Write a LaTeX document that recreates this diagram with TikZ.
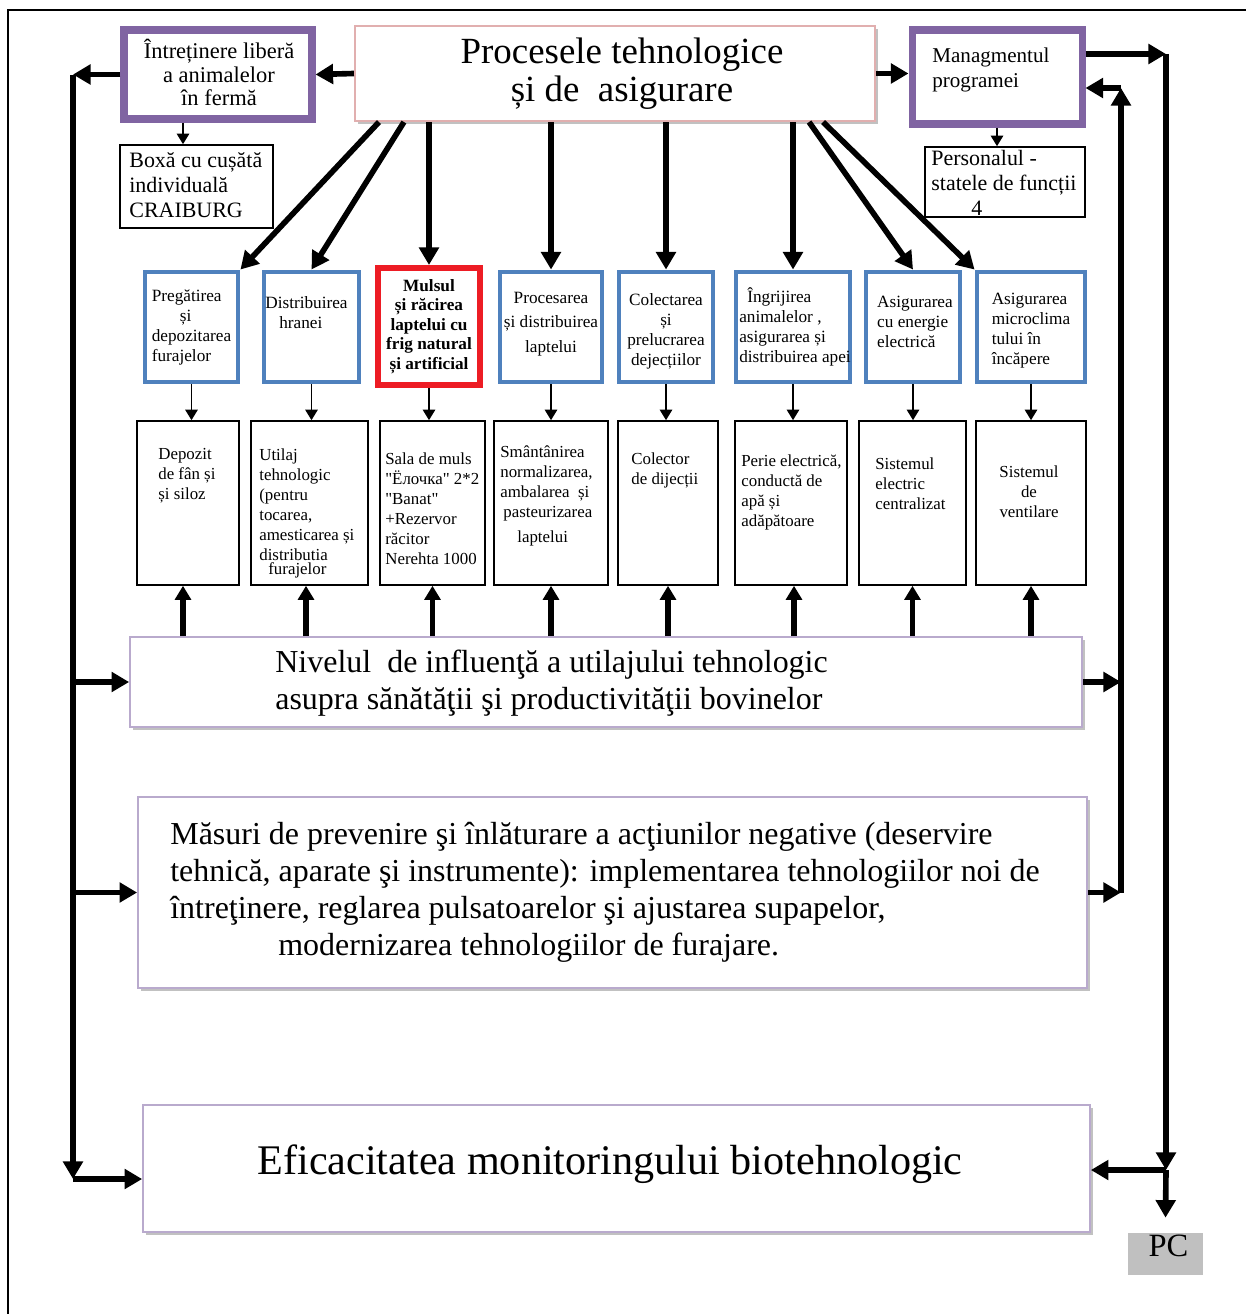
\documentclass[tikz,border=0pt]{standalone}
\usepackage{fontspec}
\setmainfont{Liberation Serif}[Ligatures=TeXOff]
\usetikzlibrary{arrows.meta,fit,shadows}
\definecolor{stageblue}{RGB}{79,129,189}
\definecolor{milkred}{RGB}{237,28,36}
\definecolor{mgmtpurple}{RGB}{128,100,162}
\definecolor{lavender}{RGB}{185,170,205}
\definecolor{rosy}{RGB}{225,175,175}
\definecolor{pcgrey}{RGB}{192,192,192}

\begin{document}
\begin{tikzpicture}[x=0.02cm, y=-0.02cm,
            stage/.style = {draw=stageblue, line width=2.8pt, inner sep=0pt},
            milk/.style = {draw=milkred, line width=3.4pt, inner sep=0pt},
            tool/.style = {draw, line width=0.9pt, inner sep=0pt},
            mgmt/.style = {draw=mgmtpurple, line width=4pt, inner sep=0pt},
            wide/.style = {draw=lavender, line width=1pt, fill=white, inner sep=0pt,
                        drop shadow={shadow xshift=1.5pt, shadow yshift=-1.5pt,
                        fill=black!35, opacity=0.7}},
            stxt/.style = {inner sep=0pt, align=left,
                        font=\fontsize{9.8}{11.4}\selectfont},
            txt/.style = {anchor=north west, inner sep=0pt, align=left,
                        font=\fontsize{9.6}{11.4}\selectfont},
            notetxt/.style = {anchor=west, inner sep=0pt, align=left,
                        font=\fontsize{12.5}{14.2}\selectfont},
            bigtxt/.style = {anchor=west, inner sep=0pt, align=left,
                        font=\fontsize{18.2}{20.8}\selectfont},
            bigarr/.style = {line width=3.2pt, -{Triangle[length=10pt, width=11pt]}},
            midarr/.style = {line width=3.2pt, -{Triangle[length=8pt, width=9pt]}},
            thinarr/.style = {line width=1.1pt, -{Triangle[length=6pt, width=7pt]}}]
            \useasboundingbox (0,0) rectangle (1246,1314);
            % page frame
            \draw[line width=1.2pt] (1246,10) -- (8,10) -- (8,1314);

            % top boxes
            \node[wide, draw=rosy, line width=1.2pt, fit={(355,26) (875,121)}] (proc) {};
            \node[inner sep=0pt, align=center, font=\fontsize{21}{21.6}\selectfont]
                (proct) at ([shift={(7,0)}]proc.center)
                {Procesele tehnologice\\ și de\ \ asigurare};
            \node[mgmt, fit={(124,30) (312,119)}] (lp) {};
            \draw[mgmtpurple, line width=0.9pt] ([shift={(5,5)}]lp.north west)
                rectangle ([shift={(-5,-5)}]lp.south east);
            \node[inner sep=0pt, align=center, font=\fontsize{12.8}{13.6}\selectfont]
                (lpt) at ([shift={(1,-2)}]lp.center)
                {Întreținere liberă\\ a animalelor\\ în fermă};
            \node[mgmt, fit={(912,30) (1082,124)}] (mg) {};
            \draw[mgmtpurple, line width=0.9pt] ([shift={(5,5)}]mg.north west)
                rectangle ([shift={(-5,-5)}]mg.south east);
            \node[notetxt, font=\fontsize{12}{14.2}\selectfont] (mgt) at (932,70)
                {Managmentul\\ programei};
            \node[tool, fit={(120,145) (273,228)}] (bx) {};
            \node[notetxt] (bxt) at (129,185) {Boxă cu cușătă\\ individuală\\ CRAIBURG};
            \node[tool, fit={(925,147) (1085,217)}] (ps) {};
            \node[notetxt] (pst) at (931,183)
                {Personalul -\\ statele de funcții\\ \hspace*{8mm}4};

            % stages
            \node[stage, fit={(145,272) (238,382)}] (p1) {};
            \node[stxt] (p1t) at (p1.center)
                {Pregătirea\\ \hspace*{5.6mm}și\\ depozitarea\\ furajelor};
            \node[stage, fit={(264,272) (359,382)}] (p2) {};
            \node[stxt] (p2t) at ([shift={(-5,-14)}]p2.center)
                {Distribuirea\\ \hspace*{2.8mm}hranei};
            \node[milk, fit={(378,268) (480,385)}] (p3) {};
            \node[stxt, align=center, font=\fontsize{9.8}{11.1}\selectfont\bfseries]
                (p3t) at (p3.center)
                {Mulsul\\ și răcirea\\ laptelui cu\\ frig natural\\ și artificial};
            \node[stage, fit={(500,272) (602,382)}] (p4) {};
            \node[stxt, align=center, font=\fontsize{9.8}{13.8}\selectfont]
                (p4t) at ([shift={(0,-3)}]p4.center)
                {Procesarea\\ și distribuirea\\ laptelui};
            \node[stage, fit={(619,272) (713,382)}] (p5) {};
            \node[stxt, align=center] (p5t) at ([shift={(0,4)}]p5.center)
                {Colectarea\\ și\\ prelucrarea\\ dejecțiilor};
            \node[stage, fit={(736,272) (850,382)}] (p6) {};
            \node[stxt] (p6t) at ([shift={(2,0)}]p6.center)
                {\hspace*{1.6mm}Îngrijirea\\ animalelor ,\\ asigurarea și\\ distribuirea apei};
            \node[stage, fit={(866,272) (960,382)}] (p7) {};
            \node[stxt] (p7t) at ([shift={(2,-5)}]p7.center)
                {Asigurarea\\ cu energie\\ electrică};
            \node[stage, fit={(977,272) (1085,382)}] (p8) {};
            \node[stxt] (p8t) at ([shift={(0,4)}]p8.center)
                {Asigurarea\\ microclima\\ tului în\\ încăpere};

            % equipment
            \node[tool, fit={(137,421) (239,585)}] (d1) {};
            \node[tool, fit={(251,421) (368,585)}] (d2) {};
            \node[tool, fit={(380,421) (485,585)}] (d3) {};
            \node[tool, fit={(494,421) (608,585)}] (d4) {};
            \node[tool, fit={(618,421) (718,585)}] (d5) {};
            \node[tool, fit={(735,421) (847,585)}] (d6) {};
            \node[tool, fit={(859,421) (966,585)}] (d7) {};
            \node[tool, fit={(976,421) (1086,585)}] (d8) {};
            \node[txt] (t1) at (158,448) {Depozit\\ de fân și\\ și siloz};
            \node[txt] (t2) at (259,448) {Utilaj\\ tehnologic\\ (pentru\\ tocarea,\\
                amesticarea și\\ distributia\\[-3pt] \hspace*{1.8mm}furajelor};
            \node[txt] (t3) at (385,452) {Sala de muls\\ "Ёлочка" 2*2\\ "Banat"\\
                +Rezervor\\ răcitor\\ Nerehta 1000};
            \node[txt] (t4) at (500,445) {Smântânirea\\ normalizarea,\\ ambalarea\ \ și\\
                \hspace*{0.6mm}pasteurizarea\\[3pt] \hspace*{3.4mm}laptelui};
            \node[txt] (t5) at (631,452) {Colector\\ de dijecții};
            \node[txt] (t6) at (741,454) {Perie electrică,\\ conductă de\\ apă și\\ adăpătoare};
            \node[txt] (t7) at (875,457) {Sistemul\\ electric\\ centralizat};
            \node[txt, anchor=north, align=center] (t8) at (1029,465) {Sistemul\\ de\\ ventilare};

            % wide boxes
            \node[wide, fit={(130,637) (1082,727)}] (niv) {};
            \node[bigtxt] (nivt) at (275,683)
                {Nivelul\ \ de influenţă a utilajului tehnologic\\
                asupra sănătăţii şi productivităţii bovinelor};
            \node[wide, fit={(138,797) (1087,988)}] (ms) {};
            \node[bigtxt, font=\fontsize{18.2}{21}\selectfont] (mst) at (170,892)
                {Măsuri de prevenire şi înlăturare a acţiunilor negative (deservire\\
                tehnică, aparate şi instrumente): implementarea tehnologiilor noi de\\
                întreţinere, reglarea pulsatoarelor şi ajustarea supapelor,\\
                \hspace*{21.6mm}modernizarea tehnologiilor de furajare.};
            \node[wide, fit={(143,1105) (1090,1232)}] (ef) {};
            \node[inner sep=0pt, font=\fontsize{24}{28}\selectfont] (eft) at (610,1164)
                {Eficacitatea monitoringului biotehnologic};
            \node[fill=pcgrey, inner sep=0pt, fit={(1128,1233) (1203,1275)}] (pc) {};
            \node[inner sep=0pt, font=\fontsize{18.5}{20}\selectfont] (pct)
                at ([shift={(3,-8)}]pc.center) {PC};

            % from the processes box
            \draw[bigarr] (proc.west) -- (lp.east);
            \draw[bigarr] (proc.east) -- (proc.east -| mg.west);
            \draw[thinarr] (lp.south -| 183,0) -- (bx.north -| 183,0);
            \draw[thinarr] (mg.south) -- (mg.south |- ps.north);
            \draw[bigarr] ([shift={(25,0)}]proc.south west) -- (p1.north east);
            \draw[bigarr] ([shift={(50,0)}]proc.south west) -- (p2.north);
            \draw[bigarr] (p3.north |- proc.south) -- (p3.north);
            \draw[bigarr] (p4.north |- proc.south) -- (p4.north);
            \draw[bigarr] (p5.north |- proc.south) -- (p5.north);
            \draw[bigarr] (p6.north |- proc.south) -- (p6.north);
            \draw[bigarr] ([shift={(-67,0)}]proc.south east) -- (p7.north);
            \draw[bigarr] ([shift={(-53,0)}]proc.south east) -- (p8.north west);

            % stages to equipment
            \draw[thinarr] (p1.south) -- (p1.south |- d1.north);
            \draw[thinarr] (p2.south) -- (p2.south |- d2.north);
            \draw[thinarr] (p3.south) -- (p3.south |- d3.north);
            \draw[thinarr] (p4.south) -- (p4.south |- d4.north);
            \draw[thinarr] (p5.south) -- (p5.south |- d5.north);
            \draw[thinarr] (p6.south) -- (p6.south |- d6.north);
            \draw[thinarr] (p7.south) -- (p7.south |- d7.north);
            \draw[thinarr] (p8.south) -- (p8.south |- d8.north);

            % influence level to equipment
            \draw[midarr] (niv.north -| 183,0) -- (d1.south -| 183,0);
            \draw[midarr] (niv.north -| 306,0) -- (d2.south -| 306,0);
            \draw[midarr] (d3.south |- niv.north) -- (d3.south);
            \draw[midarr] (d4.south |- niv.north) -- (d4.south);
            \draw[midarr] (d5.south |- niv.north) -- (d5.south);
            \draw[midarr] (niv.north -| 794,0) -- (d6.south -| 794,0);
            \draw[midarr] (d7.south |- niv.north) -- (d7.south);
            \draw[midarr] (d8.south |- niv.north) -- (d8.south);

            % left loop
            \coordinate (lc) at (73,75);
            \coordinate (lb) at (73,1179);
            \draw[bigarr] (lp.west) -- (lp.west -| lc);
            \draw[bigarr] (lc) -- (lb);
            \draw[bigarr] (niv.west -| lc) -- (niv.west);
            \draw[bigarr] (ms.west -| lc) -- (ms.west);
            \draw[bigarr] (lb) -- (lb -| ef.west);

            % right loops
            \coordinate (rc) at (1166,54);
            \coordinate (rb) at (1166,1170);
            \draw[bigarr] (mg.east |- rc) -- (rc);
            \draw[bigarr] (rc) -- (rb);
            \draw[bigarr] (rb) -- ([shift={(0,-15)}]pc.north);
            \draw[bigarr] (rb) -- (rb -| ef.east);
            \coordinate (rr) at (1121,88);
            \draw[bigarr] (ms.east -| rr) -- (rr);
            \draw[bigarr] (rr) -- (rr -| mg.east);
            \draw[bigarr] (niv.east) -- (niv.east -| rr);
            \draw[bigarr] (ms.east) -- (ms.east -| rr);
        \end{tikzpicture}
\end{document}
